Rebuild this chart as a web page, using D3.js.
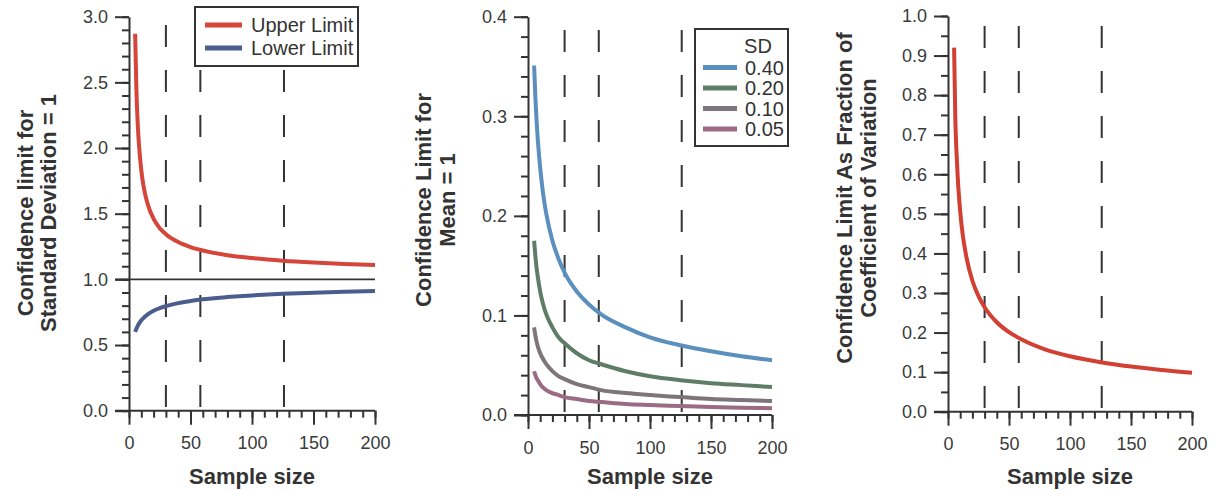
<!DOCTYPE html>
<html>
<head>
<meta charset="utf-8">
<script src="https://cdn.jsdelivr.net/npm/d3@7"></script>
<style>
  body { margin: 0; background: #fff; }
  text { font-family: "Liberation Sans", Arial, sans-serif; fill: #333; }
  .tick text { font-size: 18px; fill: #3a3a3a; }
  .title { font-size: 22px; font-weight: bold; }
  .leg { font-size: 20px; }
</style>
</head>
<body>
<div id="chart"></div>
<script>
// sample sizes used for all curves
const sampleSize = [5, 6, 7, 8, 10, 12, 15, 20, 25, 30, 40, 50, 60, 80, 100, 125, 150, 175, 200];

// panel 1: confidence limits for SD = 1
const upperLimit = [2.87, 2.45, 2.20, 2.04, 1.83, 1.70, 1.58, 1.46, 1.39, 1.344, 1.284, 1.246, 1.220, 1.184, 1.162, 1.142, 1.128, 1.117, 1.109];
const lowerLimit = [0.60, 0.624, 0.644, 0.661, 0.688, 0.708, 0.732, 0.761, 0.781, 0.796, 0.819, 0.835, 0.848, 0.865, 0.878, 0.890, 0.898, 0.905, 0.911];

// panel 2: confidence limit for mean = 1, by SD
const sdLabels = ["0.40", "0.20", "0.10", "0.05"];
const sd040 = [0.351, 0.320, 0.296, 0.277, 0.248, 0.226, 0.202, 0.175, 0.157, 0.143, 0.124, 0.111, 0.101, 0.088, 0.078, 0.070, 0.064, 0.059, 0.055];
const sd020 = [0.175, 0.160, 0.148, 0.139, 0.124, 0.113, 0.101, 0.088, 0.078, 0.072, 0.062, 0.055, 0.051, 0.044, 0.039, 0.035, 0.032, 0.030, 0.028];
const sd010 = [0.088, 0.080, 0.074, 0.069, 0.062, 0.057, 0.051, 0.044, 0.039, 0.036, 0.031, 0.028, 0.025, 0.022, 0.020, 0.018, 0.016, 0.015, 0.014];
const sd005 = [0.044, 0.040, 0.037, 0.035, 0.031, 0.028, 0.025, 0.022, 0.020, 0.018, 0.016, 0.014, 0.013, 0.011, 0.010, 0.009, 0.008, 0.0074, 0.0069];

// panel 3: confidence limit as fraction of CV
const cvFraction = [0.92, 0.74, 0.654, 0.591, 0.506, 0.449, 0.392, 0.331, 0.292, 0.264, 0.226, 0.201, 0.183, 0.157, 0.140, 0.125, 0.114, 0.1055, 0.0986];

// vertical reference sample sizes
const refSizes = [30, 58, 126];

const W = 1212, H = 490;
const MAJOR = 14, MINOR = 7;

const svg = d3.select("#chart").append("svg")
    .attr("width", W)
    .attr("height", H);

function drawPanel(cfg)
{
    const x = d3.scaleLinear().domain([0, 200]).range([cfg.left, cfg.right]);
    const y = d3.scaleLinear().domain([0, cfg.ymax]).range([cfg.bottom, cfg.top]);
    const g = svg.append("g");

    // dashed reference lines
    g.selectAll(".ref")
        .data(refSizes)
        .enter()
        .append("line")
        .attr("x1", d => x(d)).attr("x2", d => x(d))
        .attr("y1", cfg.dashTop).attr("y2", cfg.bottom)
        .attr("stroke", "#333")
        .attr("stroke-width", 2)
        .attr("stroke-dasharray", "22,23");

    // minor ticks
    g.append("g")
        .attr("transform", `translate(0,${cfg.bottom})`)
        .call(d3.axisBottom(x).tickValues(d3.range(0, 201, 10)).tickSize(MINOR).tickFormat(""))
        .call(a => a.select(".domain").remove());
    g.append("g")
        .attr("transform", `translate(${cfg.left},0)`)
        .call(d3.axisLeft(y).tickValues(d3.range(0, cfg.ymax + 1e-9, cfg.ymin)).tickSize(MINOR).tickFormat(""))
        .call(a => a.select(".domain").remove());

    // major ticks + labels
    const xa = g.append("g")
        .attr("transform", `translate(0,${cfg.bottom})`)
        .call(d3.axisBottom(x).tickValues([0, 50, 100, 150, 200]).tickSize(MAJOR).tickSizeOuter(0).tickPadding(12));
    const ya = g.append("g")
        .attr("transform", `translate(${cfg.left},0)`)
        .call(d3.axisLeft(y).tickValues(d3.range(0, cfg.ymax + 1e-9, cfg.ystep)).tickSize(MAJOR).tickSizeOuter(0).tickPadding(7)
            .tickFormat(d3.format(".1f")));

    g.selectAll(".tick line").attr("stroke", "#333").attr("stroke-width", 2);
    g.selectAll(".domain").attr("stroke", "#333").attr("stroke-width", 2);
    xa.select(".domain").attr("d", `M${cfg.left - MAJOR},0H${cfg.right}`);

    // curves
    const line = d3.line()
        .x((d, i) => x(sampleSize[i]))
        .y(d => y(d))
        .curve(d3.curveMonotoneX);

    cfg.series.forEach(s => {
        g.append("path")
            .attr("d", line(s.values))
            .attr("fill", "none")
            .attr("stroke", s.color)
            .attr("stroke-width", 4);
    });

    // titles
    g.append("text")
        .attr("class", "title")
        .attr("x", (cfg.left + cfg.right) / 2)
        .attr("y", cfg.xTitleY)
        .attr("text-anchor", "middle")
        .text("Sample size");

    cfg.yTitle.forEach((t, i) => {
        g.append("text")
            .attr("class", "title")
            .attr("transform", `translate(${cfg.yTitleX[i]},${cfg.yTitleCy}) rotate(-90)`)
            .attr("text-anchor", "middle")
            .text(t);
    });

    return {g, x, y};
}

// ---------- panel 1 ----------
const p1 = drawPanel({
    left: 129, right: 375, top: 16.7, bottom: 410.7,
    ymax: 3, ystep: 0.5, ymin: 0.1, dashTop: 25,
    xTitleY: 484, yTitle: ["Confidence limit for", "Standard Deviation = 1"],
    yTitleX: [33, 56], yTitleCy: 213,
    series: [
        {values: upperLimit, color: "#d6453a"},
        {values: lowerLimit, color: "#4a5d8c"}
    ]
});
p1.g.append("line")
    .attr("x1", 129 - MAJOR).attr("x2", 375)
    .attr("y1", p1.y(1)).attr("y2", p1.y(1))
    .attr("stroke", "#333").attr("stroke-width", 1.6);

const leg1 = p1.g.append("g");
leg1.append("rect")
    .attr("x", 195).attr("y", 7).attr("width", 163).attr("height", 59)
    .attr("fill", "#fff").attr("stroke", "#333").attr("stroke-width", 2);
[["Upper Limit", "#d6453a"], ["Lower Limit", "#4a5d8c"]].forEach((e, i) => {
    const yy = 25 + i * 23;
    leg1.append("line").attr("x1", 205).attr("x2", 242).attr("y1", yy).attr("y2", yy)
        .attr("stroke", e[1]).attr("stroke-width", 5);
    leg1.append("text").attr("class", "leg").attr("x", 251).attr("y", yy)
        .attr("dominant-baseline", "central").text(e[0]);
});

// ---------- panel 2 ----------
const sdColors = ["#5b8fbd", "#5f7c66", "#7d7579", "#9b6b84"];
const p2 = drawPanel({
    left: 528, right: 772, top: 16.7, bottom: 415,
    ymax: 0.4, ystep: 0.1, ymin: 0.02, dashTop: 30,
    xTitleY: 484, yTitle: ["Confidence Limit for", "Mean = 1"],
    yTitleX: [431, 455], yTitleCy: 200,
    series: [sd040, sd020, sd010, sd005].map((v, i) => ({values: v, color: sdColors[i]}))
});
const leg2 = p2.g.append("g");
leg2.append("rect")
    .attr("x", 695).attr("y", 29).attr("width", 93).attr("height", 117)
    .attr("fill", "#fff").attr("stroke", "#333").attr("stroke-width", 2);
leg2.append("text").attr("class", "leg").attr("x", 758).attr("y", 46)
    .attr("text-anchor", "middle").attr("dominant-baseline", "central").text("SD");
sdLabels.forEach((lab, i) => {
    const yy = 67.5 + i * 20.5;
    leg2.append("line").attr("x1", 703).attr("x2", 737).attr("y1", yy).attr("y2", yy)
        .attr("stroke", sdColors[i]).attr("stroke-width", 5);
    leg2.append("text").attr("class", "leg").attr("x", 745).attr("y", yy)
        .attr("dominant-baseline", "central").text(lab);
});

// ---------- panel 3 ----------
drawPanel({
    left: 948, right: 1192, top: 16, bottom: 411.7,
    ymax: 1, ystep: 0.1, ymin: 0.05, dashTop: 26,
    xTitleY: 484, yTitle: ["Confidence Limit As Fraction of", "Coefficient of Variation"],
    yTitleX: [852, 876], yTitleCy: 198,
    series: [{values: cvFraction, color: "#d23f33"}]
});
</script>
</body>
</html>
